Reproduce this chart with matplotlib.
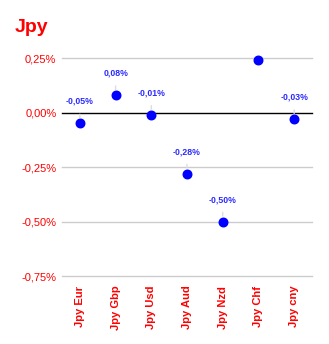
import numpy as np
import matplotlib
matplotlib.use("Agg")
import matplotlib.pyplot as plt

plt.rcParams['font.family'] = ['Liberation Sans', 'DejaVu Sans']

# data
pairs = ['Jpy Eur', 'Jpy Gbp', 'Jpy Usd', 'Jpy Aud', 'Jpy Nzd', 'Jpy Chf', 'Jpy cny']
changes = [-0.05, 0.08, -0.01, -0.28, -0.50, 0.24, -0.03]
point_labels = ['-0,05%', '0,08%', '-0,01%', '-0,28%', '-0,50%', '', '-0,03%']
y_ticks = [0.25, 0.0, -0.25, -0.50, -0.75]
y_tick_labels = ['0,25%', '0,00%', '-0,25%', '-0,50%', '-0,75%']

fig = plt.figure(figsize=(3.29, 3.44), dpi=100)
ax = fig.add_axes([62/329, 1-276/344, 250/329, 236/344])

x = np.arange(len(pairs))
ax.set_xlim(-0.5, len(pairs) - 0.5)
ax.set_ylim(-0.75, 0.3326)

for yt in y_ticks:
    ax.axhline(yt, color='black' if yt == 0 else '#cccccc', lw=1, zorder=1,
               clip_on=False)

ax.scatter(x, changes, s=38, color='#0000ff', zorder=3, clip_on=False)

for xi, v, lab in zip(x, changes, point_labels):
    if not lab:
        continue
    ax.annotate(lab, xy=(xi, v), xytext=(0, 22), textcoords='offset pixels',
                ha='center', va='center', fontsize=6.3, fontweight='bold',
                color='#2a2aff',
                arrowprops=dict(arrowstyle='-', color='#dddddd', lw=1,
                                shrinkA=4, shrinkB=4))

ax.set_yticks(y_ticks)
ax.set_yticklabels(y_tick_labels, color='red', fontsize=8)
ax.set_xticks(x)
ax.set_xticklabels(pairs, rotation=90, color='red', fontsize=8, fontweight='bold')
ax.tick_params(length=0, pad=4)
ax.tick_params(axis='x', pad=7)
for s in ax.spines.values():
    s.set_visible(False)

fig.text(15/329, 1-28/344, 'Jpy', color='red', fontsize=14, fontweight='bold',
         va='center', ha='left')

fig.savefig('out.png', dpi=100)
